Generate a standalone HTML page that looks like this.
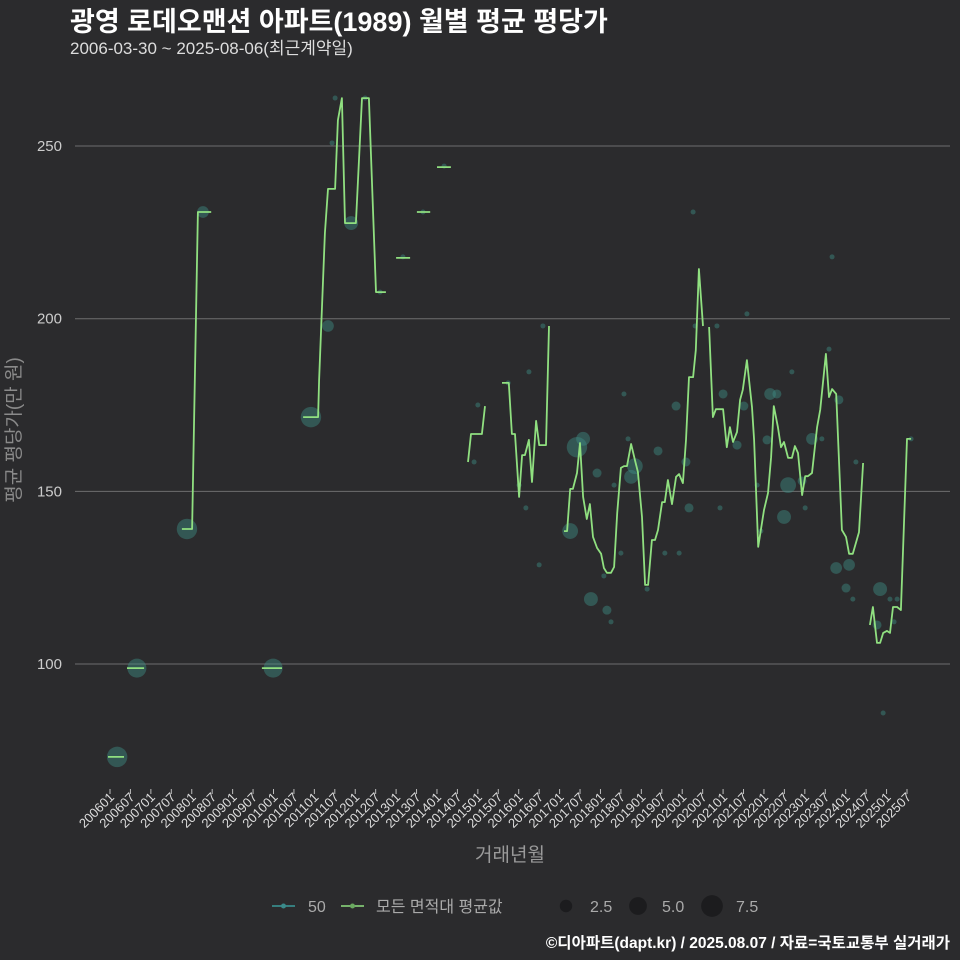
<!DOCTYPE html>
<html><head><meta charset="utf-8">
<style>
html,body{margin:0;padding:0;background:#2b2b2d;overflow:hidden;width:960px;height:960px;}
svg{display:block;}
svg text{font-family:"Liberation Sans","Noto Sans CJK KR",sans-serif;}
</style></head>
<body>
<svg id="chart" width="960" height="960" viewBox="0 0 960 960" xmlns="http://www.w3.org/2000/svg">
<rect x="0" y="0" width="960" height="960" fill="#2b2b2d"/>
<text x="70" y="31" font-size="27" font-weight="bold" fill="#ffffff">광영 로데오맨션 아파트(1989) 월별 평균 평당가</text>
<text x="70" y="54" font-size="17" fill="#dddddd">2006-03-30 ~ 2025-08-06(최근계약일)</text>
<g id="grid"></g>
<g id="yaxis"></g>
<g id="xaxis"></g>
<g id="points"></g>
<g id="lines"></g>
<text transform="translate(20,430) rotate(-90)" text-anchor="middle" font-size="19" fill="#8a8a8a">평균 평당가(만 원)</text>
<text x="510" y="861" text-anchor="middle" font-size="19" fill="#9a9a9a">거래년월</text>
<g>
  <g>
    <line x1="272" y1="906" x2="295" y2="906" stroke="#3a9a9a" stroke-width="1.5"/>
    <circle cx="283.5" cy="906" r="2.5" fill="#3a8a8a"/>
    <text x="308" y="912" font-size="16" fill="#aaaaaa">50</text>
  </g>
  <g>
    <line x1="341" y1="906" x2="364" y2="906" stroke="#90e080" stroke-width="1.5"/>
    <circle cx="352.5" cy="906" r="2.5" fill="#6aaa60"/>
    <text x="376" y="912" font-size="16" fill="#aaaaaa">모든 면적대 평균값</text>
  </g>
  <g id="sizeLegend"></g>
</g>
<text x="950" y="948" text-anchor="end" font-size="15.5" font-weight="bold" fill="#ffffff">©디아파트(dapt.kr) / 2025.08.07 / 자료=국토교통부 실거래가</text>
</svg>
<script>
// months are counted from 2006-01 (0)
const yTicks = [100, 150, 200, 250];
const xTickLabels = [];
for (let y = 2006; y <= 2025; y++) { xTickLabels.push(y + "01"); xTickLabels.push(y + "07"); }
const sizeLegendValues = [2.5, 5.0, 7.5];

const pointMonths = [2.1,7.9,22.6,27.3,47.9,59.0,64.0,65.2,66.1,70.8,74.9,79.3,86.0,91.9,98.1,106.9,108.0,116.9,123.0,127.1,120.1,122.1,126.0,137.1,138.9,135.1,143.0,148.0,150.9,152.1,154.1,153.0,150.0,145.0,141.2,145.9,147.1,157.7,171.2,187.0,178.2,171.8,200.2,180.0,193.8,195.8,166.2,186.1,192.9,184.1,160.9,169.1,199.1,190.0,170.0,179.1,197.9,191.1,162.9,167.1,212.0,211.1,214.0,206.1,209.0,219.0,203.2,204.1,213.2,217.0,216.1,218.1,226.1,229.0,231.1,225.2,230.2,227.0,235.2];
const pointValues = [73.1,98.8,139.1,230.9,98.8,171.5,197.9,250.9,263.9,227.7,263.9,207.7,217.9,230.9,244.2,158.5,175.0,181.4,184.6,197.9,151.8,145.2,128.7,162.8,165.2,138.5,155.3,151.8,178.2,165.2,157.3,154.2,132.1,125.5,118.8,115.6,112.2,121.7,230.9,201.4,197.9,197.9,184.6,178.2,178.2,178.2,174.7,174.7,164.9,163.4,161.7,158.5,151.8,151.8,145.2,145.2,142.6,138.5,132.1,132.1,217.9,191.2,176.5,165.2,165.2,158.5,153.0,145.2,127.8,128.7,122.0,118.8,121.7,118.8,118.8,111.3,112.2,85.8,165.2];
const pointCounts = [8,7,8,3,7,8,3,1,1,4,1,1,1,1,1,1,1,1,1,1,1,1,1,8,4,5,2,1,1,1,5,4,1,1,4,2,1,1,1,1,1,1,1,2,3,2,2,2,2,2,2,2,5,1,2,1,4,1,1,1,1,1,2,3,1,1,2,1,3,3,2,1,4,1,1,2,1,1,1];

// null separates line segments (gaps in data)
const lineMonths = [-0.6,4.1,null,5.0,10.0,null,21.1,24.1,25.8,29.7,null,44.6,50.5,null,
56.7,61.1,61.4,63.1,64.0,66.1,66.9,68.1,69.0,72.2,74.0,76.0,78.1,81.0,null,84.0,88.1,null,90.1,94.0,null,96.0,100.1,null,
105.1,106.0,109.2,110.1,null,
115.1,117.1,118.0,118.9,120.1,121.0,121.8,123.0,123.9,125.1,126.0,128.0,128.9,null,
133.3,134.2,135.1,135.9,137.1,138.0,138.9,140.0,140.9,141.8,143.0,144.2,145.0,145.9,147.1,148.0,148.9,150.0,150.9,151.8,153.0,154.1,155.0,156.2,157.1,158.0,159.1,160.0,160.9,162.1,162.9,163.8,165.0,166.2,167.1,168.2,169.1,170.0,171.2,172.0,172.9,174.1,null,
175.9,177.0,177.9,180.0,181.1,182.0,182.9,184.1,185.0,185.8,187.0,188.5,189.1,190.3,192.0,193.2,194.1,194.9,196.1,197.0,197.9,199.1,200.2,201.1,202.0,203.2,204.1,204.9,206.1,207.6,208.5,210.2,211.1,212.0,213.2,214.9,216.1,217.0,218.1,219.9,221.1,null,
223.1,224.0,225.2,226.1,227.0,228.1,229.0,229.9,231.1,232.2,234.0,235.2];
const lineValues = [73.1,73.1,null,98.8,98.8,null,139.1,139.1,230.9,230.9,null,98.8,98.8,null,
171.5,171.5,182.2,224.8,237.6,237.6,257.5,263.9,227.7,227.7,263.9,263.9,207.7,207.7,null,217.6,217.6,null,230.9,230.9,null,243.9,243.9,null,
158.5,166.6,166.6,174.7,null,
181.4,181.4,166.6,166.6,148.4,160.5,160.5,164.9,152.7,170.4,163.4,163.4,197.9,null,
138.5,138.5,150.7,150.7,155.3,164.0,148.4,142.0,146.3,136.8,133.6,131.9,127.8,126.4,126.4,128.1,143.7,156.8,157.3,157.3,163.7,159.1,155.6,142.6,122.9,122.9,135.9,135.9,138.8,146.9,146.9,153.3,146.3,154.2,155.0,152.4,164.9,183.1,183.1,190.9,214.4,197.9,null,
197.6,171.5,173.8,173.8,162.8,168.6,164.3,167.2,176.5,179.4,188.0,174.4,164.9,133.9,144.6,149.5,159.9,174.7,168.6,162.8,164.3,159.7,159.7,163.1,161.1,148.9,154.4,154.4,155.3,168.6,173.6,189.8,177.3,179.6,178.2,138.8,136.8,131.9,131.9,138.2,158.2,null,
111.3,116.5,106.1,106.1,109.0,109.6,109.0,116.5,116.5,115.6,165.2,165.2];

const NS = "http://www.w3.org/2000/svg";
function xScale(m) { return 110 + m * 3.406; }
function yScale(v) { return 664 - (v - 100) * 3.453; }
function rScale(n) { return Math.sqrt(6.25 + (n - 1) * 14); }
function mk(tag, attrs, parent) {
  const e = document.createElementNS(NS, tag);
  for (const k in attrs) e.setAttribute(k, attrs[k]);
  parent.appendChild(e);
  return e;
}
const grid = document.getElementById('grid');
const yaxis = document.getElementById('yaxis');
yTicks.forEach(v => {
  const l = mk('line', {x1: 75, x2: 950, y1: yScale(v), y2: yScale(v), stroke: '#6e6e6e', 'stroke-width': 1}, grid);
  
  
  const t = mk('text', {x: 62, y: yScale(v) + 5, 'text-anchor': 'end', 'font-size': 15, fill: '#cccccc'}, yaxis);
  t.textContent = v;
  
  
});
const xaxis = document.getElementById('xaxis');
xTickLabels.forEach((lab, i) => {
  const x = xScale(i * 6);
  const tk = mk('line', {x1: x, x2: x, y1: 789, y2: 794, stroke: '#bbbbbb', 'stroke-width': 1}, xaxis);
  
  
  const t = mk('text', {x: 0, y: 0, 'text-anchor': 'end', 'font-size': 13, fill: '#dddddd', transform: 'translate(' + (x + 5) + ',798) rotate(-45)'}, xaxis);
  t.textContent = lab;
  
  
});
const pts = document.getElementById('points');
pointMonths.forEach((m, i) => {
  const c = mk('circle', {cx: xScale(m), cy: yScale(pointValues[i]), r: rScale(pointCounts[i]), fill: '#3d8f86', 'fill-opacity': 0.45}, pts);
  
  
});
const lines = document.getElementById('lines');
let d = '', start = true;
lineMonths.forEach((m, i) => {
  if (m === null || lineValues[i] === null) { start = true; return; }
  d += (start ? 'M' : 'L') + xScale(m).toFixed(1) + ',' + yScale(lineValues[i]).toFixed(1) + ' ';
  start = false;
});
const p = mk('path', {d: d, fill: 'none', stroke: '#90e080', 'stroke-width': 1.8, 'stroke-linejoin': 'round'}, lines);


const sl = document.getElementById('sizeLegend');
const slx = [566, 638, 712];
sizeLegendValues.forEach((v, i) => {
  const c = mk('circle', {cx: slx[i], cy: 906, r: rScale(v) + 1, fill: '#1c1c1e'}, sl);
  
  
  const t = mk('text', {x: slx[i] + 24, y: 912, 'font-size': 16, fill: '#aaaaaa'}, sl);
  t.textContent = v.toFixed(1);
  
  
});
</script>
</body></html>
